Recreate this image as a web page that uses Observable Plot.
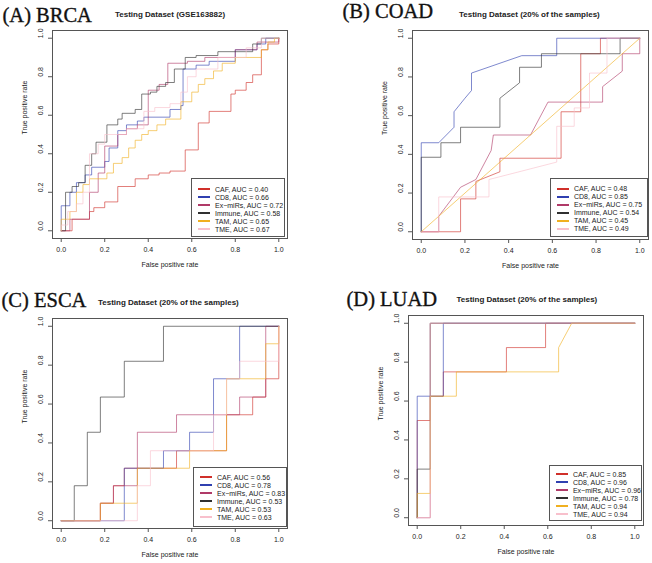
<!DOCTYPE html>
<html><head><meta charset="utf-8">
<script src="https://cdn.jsdelivr.net/npm/d3@7"></script>
<script src="https://cdn.jsdelivr.net/npm/@observablehq/plot@0.6"></script>
<style>
body{margin:0;background:#fff}
#fig{position:relative;width:652px;height:563px;overflow:hidden;background:#fff}
.panel{position:absolute}
.title{position:absolute;font-family:"Liberation Serif","Times New Roman",serif;font-size:20.5px;line-height:1;white-space:nowrap;color:#111;-webkit-text-stroke:0.35px #111}
.sub{position:absolute;font-family:"Liberation Sans",Arial,sans-serif;font-weight:bold;font-size:8px;line-height:1;white-space:nowrap;color:#222}
.legend{position:absolute;box-sizing:border-box;border:1px solid #555;background:#fff;font-family:"Liberation Sans",Arial,sans-serif;font-size:7px;color:#222}
.row{display:flex;align-items:center;height:8px;white-space:nowrap}
.sw{display:inline-block;width:12px;height:0;border-top:2px solid #000;margin-right:5px}
</style></head>
<body><div id="fig"></div>
<script>
// ---- data ----
const seriesNames = ["CAF", "CD8", "Ex\u2212miRs", "Immune", "TAM", "TME"];
const seriesColors = ["#d0302a", "#3040b0", "#b03a68", "#303030", "#f0b020", "#f8c0cc"];
const tickVals = [0, 0.2, 0.4, 0.6, 0.8, 1.0];

const panelTitles = ["(A) BRCA", "(B) COAD", "(C) ESCA", "(D) LUAD"];
const panelSubtitles = ["Testing Dataset (GSE163882)", "Testing Dataset (20% of the samples)", "Testing Dataset (20% of the samples)", "Testing Dataset (20% of the samples)"];

const aucBRCA = [0.40, 0.66, 0.72, 0.58, 0.65, 0.67];
const aucCOAD = [0.48, 0.85, 0.75, 0.54, 0.45, 0.49];
const aucESCA = [0.56, 0.78, 0.83, 0.53, 0.53, 0.63];
const aucLUAD = [0.85, 0.96, 0.96, 0.78, 0.94, 0.94];

// BRCA curves [fpr, tpr]
const brcaCAF = [[0,0],[0.05,0],[0.05,0.06],[0.13,0.06],[0.13,0.1],[0.15,0.1],[0.15,0.12],[0.2,0.12],[0.2,0.15],[0.26,0.15],[0.26,0.23],[0.34,0.23],[0.34,0.27],[0.4,0.27],[0.4,0.29],[0.45,0.29],[0.45,0.3],[0.5,0.3],[0.5,0.31],[0.57,0.31],[0.57,0.42],[0.63,0.42],[0.63,0.56],[0.68,0.56],[0.68,0.62],[0.78,0.62],[0.78,0.71],[0.8,0.71],[0.8,0.73],[0.85,0.73],[0.85,0.77],[0.88,0.77],[0.88,0.81],[0.92,0.81],[0.92,0.94],[0.95,0.94],[0.95,0.97],[1,0.97],[1,1]];
const brcaCD8 = [[0,0],[0,0.13],[0.04,0.13],[0.04,0.2],[0.07,0.2],[0.07,0.25],[0.11,0.25],[0.11,0.29],[0.14,0.29],[0.14,0.33],[0.2,0.33],[0.2,0.36],[0.22,0.36],[0.22,0.43],[0.26,0.43],[0.26,0.52],[0.3,0.52],[0.3,0.55],[0.35,0.55],[0.35,0.57],[0.38,0.57],[0.38,0.59],[0.5,0.59],[0.5,0.63],[0.55,0.63],[0.55,0.65],[0.56,0.65],[0.56,0.84],[0.62,0.84],[0.62,0.86],[0.68,0.86],[0.68,0.88],[0.8,0.88],[0.8,0.94],[0.9,0.94],[0.9,0.97],[0.94,0.97],[0.94,1],[1,1]];
const brcaExm = [[0,0],[0.04,0],[0.04,0.06],[0.13,0.06],[0.13,0.2],[0.17,0.2],[0.17,0.3],[0.2,0.3],[0.2,0.44],[0.26,0.44],[0.26,0.5],[0.3,0.5],[0.3,0.53],[0.35,0.53],[0.35,0.55],[0.4,0.55],[0.4,0.73],[0.45,0.73],[0.45,0.76],[0.49,0.76],[0.49,0.87],[0.58,0.87],[0.58,0.88],[0.66,0.88],[0.66,0.9],[0.8,0.9],[0.8,0.94],[0.9,0.94],[0.9,0.98],[1,0.98],[1,1]];
const brcaImm = [[0,0],[0.02,0],[0.02,0.2],[0.05,0.2],[0.05,0.23],[0.08,0.23],[0.08,0.25],[0.11,0.25],[0.11,0.34],[0.14,0.34],[0.14,0.4],[0.16,0.4],[0.16,0.46],[0.21,0.46],[0.21,0.55],[0.26,0.55],[0.26,0.58],[0.28,0.58],[0.28,0.61],[0.34,0.61],[0.34,0.63],[0.37,0.63],[0.37,0.71],[0.41,0.71],[0.41,0.72],[0.44,0.72],[0.44,0.75],[0.48,0.75],[0.48,0.77],[0.52,0.77],[0.52,0.84],[0.57,0.84],[0.57,0.9],[0.62,0.9],[0.62,0.91],[0.72,0.91],[0.72,0.93],[0.88,0.93],[0.88,0.97],[0.92,0.97],[0.92,1],[1,1]];
const brcaTAM = [[0,0],[0,0.06],[0.04,0.06],[0.04,0.1],[0.07,0.1],[0.07,0.2],[0.1,0.2],[0.1,0.24],[0.13,0.24],[0.13,0.27],[0.21,0.27],[0.21,0.3],[0.24,0.3],[0.24,0.35],[0.28,0.35],[0.28,0.38],[0.31,0.38],[0.31,0.43],[0.34,0.43],[0.34,0.47],[0.37,0.47],[0.37,0.5],[0.4,0.5],[0.4,0.52],[0.44,0.52],[0.44,0.55],[0.48,0.55],[0.48,0.58],[0.55,0.58],[0.55,0.67],[0.6,0.67],[0.6,0.72],[0.63,0.72],[0.63,0.76],[0.66,0.76],[0.66,0.79],[0.7,0.79],[0.7,0.83],[0.74,0.83],[0.74,0.87],[0.8,0.87],[0.8,0.9],[0.92,0.9],[0.92,0.94],[0.95,0.94],[0.95,0.98],[0.98,0.98],[0.98,1],[1,1]];
const brcaTME = [[0,0],[0,0.03],[0.03,0.03],[0.03,0.1],[0.07,0.1],[0.07,0.14],[0.1,0.14],[0.1,0.2],[0.13,0.2],[0.13,0.4],[0.17,0.4],[0.17,0.45],[0.2,0.45],[0.2,0.5],[0.3,0.5],[0.3,0.53],[0.38,0.53],[0.38,0.62],[0.43,0.62],[0.43,0.64],[0.5,0.64],[0.5,0.66],[0.55,0.66],[0.55,0.72],[0.58,0.72],[0.58,0.8],[0.62,0.8],[0.62,0.84],[0.72,0.84],[0.72,0.9],[0.85,0.9],[0.85,0.95],[0.92,0.95],[0.92,1],[1,1]];

// COAD curves
const coadCAF = [[0,0],[0.18,0],[0.18,0.17],[0.25,0.17],[0.25,0.26],[0.36,0.31],[0.36,0.38],[0.64,0.38],[0.64,0.62],[0.73,0.62],[0.73,0.92],[0.82,0.92],[0.82,1],[1,1]];
const coadCD8 = [[0,0],[0,0.46],[0.08,0.46],[0.15,0.54],[0.15,0.62],[0.2,0.69],[0.23,0.73],[0.23,0.82],[0.46,0.91],[0.62,0.91],[0.62,1],[0.85,1],[1,1]];
const coadExm = [[0,0],[0.08,0],[0.08,0.08],[0.18,0.23],[0.25,0.27],[0.32,0.42],[0.33,0.5],[0.5,0.5],[0.58,0.67],[0.83,0.67],[0.83,0.75],[0.92,0.83],[0.92,0.92],[1,0.92],[1,1]];
const coadImm = [[0,0],[0,0.385],[0.09,0.385],[0.09,0.46],[0.18,0.46],[0.18,0.54],[0.36,0.54],[0.36,0.69],[0.45,0.77],[0.45,0.85],[0.55,0.85],[0.55,0.92],[0.91,0.92],[0.91,1],[1,1]];
const coadTAM = [[0,0],[1,1]];
const coadTME = [[0,0],[0.08,0],[0.08,0.18],[0.31,0.18],[0.31,0.27],[0.62,0.36],[0.62,0.545],[0.7,0.545],[0.7,0.64],[0.77,0.64],[0.77,0.82],[0.85,0.82],[0.85,1],[1,1]];

// ESCA curves
const escaCAF = [[0,0],[0.18,0],[0.18,0.09],[0.24,0.09],[0.24,0.18],[0.29,0.18],[0.29,0.27],[0.53,0.27],[0.53,0.36],[0.76,0.36],[0.76,0.545],[0.88,0.545],[0.88,0.636],[0.94,0.636],[0.94,0.73],[1,0.73],[1,1]];
const escaCD8 = [[0,0],[0.29,0],[0.29,0.27],[0.47,0.27],[0.47,0.36],[0.59,0.36],[0.59,0.455],[0.7,0.455],[0.7,0.73],[0.82,0.73],[0.82,1],[1,1]];
const escaExm = [[0,0],[0.18,0],[0.18,0.09],[0.24,0.09],[0.24,0.18],[0.35,0.18],[0.35,0.455],[0.53,0.455],[0.53,0.545],[0.82,0.545],[0.82,0.636],[0.94,0.636],[0.94,1],[1,1]];
const escaImm = [[0,0],[0.06,0],[0.06,0.18],[0.12,0.18],[0.12,0.455],[0.18,0.455],[0.18,0.636],[0.29,0.636],[0.29,0.82],[0.47,0.82],[0.47,1],[1,1]];
const escaTAM = [[0,0],[0.18,0],[0.18,0.09],[0.35,0.09],[0.35,0.27],[0.59,0.27],[0.59,0.36],[0.76,0.36],[0.76,0.73],[0.94,0.73],[0.94,0.91],[1,0.91],[1,1]];
const escaTME = [[0,0],[0.35,0],[0.35,0.18],[0.41,0.18],[0.41,0.36],[0.7,0.36],[0.7,0.545],[0.76,0.545],[0.76,0.73],[0.82,0.73],[0.82,0.82],[1,0.82],[1,1]];

// LUAD curves
const luadCAF = [[0,0],[0,0.5],[0.06,0.5],[0.06,0.625],[0.12,0.625],[0.12,0.75],[0.41,0.75],[0.41,0.875],[0.59,0.875],[0.59,1],[1,1]];
const luadCD8 = [[0,0],[0,0.625],[0.12,0.625],[0.12,1],[1,1]];
const luadExm = [[0,0],[0.06,0],[0.06,1],[1,1]];
const luadImm = [[0,0],[0,0.25],[0.06,0.25],[0.06,1],[1,1]];
const luadTAM = [[0,0],[0,0.125],[0.06,0.125],[0.06,0.625],[0.18,0.625],[0.18,0.75],[0.65,0.75],[0.65,0.875],[0.71,1],[1,1]];
const luadTME = [[0,0],[0.06,0],[0.06,1],[1,1]];

// ---- layout ----
const panels = [
  {curves:[brcaCAF,brcaCD8,brcaExm,brcaImm,brcaTAM,brcaTME], auc:aucBRCA, left:0, top:0, w:326, h:280, mL:52, mR:39, mT:30, mB:42,
   title:[2.5,4.5], sub:[115,10.7], leg:{l:191,t:178,w:94,h:59,pt:6}},
  {curves:[coadCAF,coadCD8,coadExm,coadImm,coadTAM,coadTME], auc:aucCOAD, left:326, top:0, w:326, h:280, mL:86, mR:4, mT:30, mB:41,
   title:[342.5,1.2], sub:[459,10.7], leg:{l:550,t:178,w:98,h:59,pt:5.5}},
  {curves:[escaCAF,escaCD8,escaExm,escaImm,escaTAM,escaTME], auc:aucESCA, left:0, top:280, w:326, h:283, mL:52, mR:39, mT:38, mB:35,
   title:[1.5,289.5], sub:[98,299.2], leg:{l:193,t:467,w:94,h:60,pt:5}},
  {curves:[luadCAF,luadCD8,luadExm,luadImm,luadTAM,luadTME], auc:aucLUAD, left:326, top:280, w:326, h:283, mL:82, mR:9, mT:35, mB:38,
   title:[346.5,288.8], sub:[456.5,296.2], leg:{l:549,t:465,w:93,h:56,pt:4}}
];

const fig = document.getElementById("fig");
const fmt = d => d.toFixed(1);

panels.forEach((p, k) => {
  const data = [];
  p.curves.forEach((c, i) => c.forEach(([x, y]) => data.push({s: seriesNames[i], x, y})));
  const chart = Plot.plot({
    width: p.w, height: p.h,
    marginLeft: p.mL, marginRight: p.mR, marginTop: p.mT, marginBottom: p.mB,
    x: {domain: [-0.04, 1.04]},
    y: {domain: [-0.04, 1.04]},
    color: {domain: seriesNames, range: seriesColors},
    style: {fontFamily: "'Liberation Sans', Arial, sans-serif", fontSize: "7px", background: "transparent", color: "#222"},
    marks: [
      Plot.line(data, {x: "x", y: "y", z: "s", stroke: "s", strokeWidth: 1, strokeOpacity: 0.62}),
      Plot.frame({stroke: "#555"}),
      Plot.axisX({ticks: tickVals, tickSize: 4, tickPadding: 5, tickFormat: fmt, label: null, stroke: "#555", fill: "#222"}),
      Plot.axisY({ticks: tickVals, tickSize: 4, tickFormat: () => "", label: null, stroke: "#555"}),
      Plot.text(tickVals, {y: d => d, text: fmt, frameAnchor: "left", dx: -11.5, rotate: -90, fill: "#222"}),
      Plot.text(["False positive rate"], {frameAnchor: "bottom", dy: 28.5, text: d => d, fill: "#222"}),
      Plot.text(["True positive rate"], {frameAnchor: "left", dx: -27.5, rotate: -90, text: d => d, fill: "#222"})
    ]
  });
  const wrap = document.createElement("div");
  wrap.className = "panel";
  wrap.style.left = p.left + "px"; wrap.style.top = p.top + "px";
  wrap.appendChild(chart);
  fig.appendChild(wrap);

  const t = document.createElement("div");
  t.className = "title"; t.textContent = panelTitles[k];
  t.style.left = p.title[0] + "px"; t.style.top = p.title[1] + "px";
  fig.appendChild(t);
  const s = document.createElement("div");
  s.className = "sub"; s.textContent = panelSubtitles[k];
  s.style.left = p.sub[0] + "px"; s.style.top = p.sub[1] + "px";
  fig.appendChild(s);

  const lg = document.createElement("div");
  lg.className = "legend";
  Object.assign(lg.style, {left: p.leg.l + "px", top: p.leg.t + "px", width: p.leg.w + "px", height: p.leg.h + "px", paddingTop: p.leg.pt + "px", paddingLeft: "6px"});
  seriesNames.forEach((n, i) => {
    const r = document.createElement("div"); r.className = "row";
    const sw = document.createElement("span"); sw.className = "sw"; sw.style.borderTopColor = seriesColors[i];
    const tx = document.createElement("span"); tx.textContent = `${n}, AUC = ${p.auc[i].toFixed(2)}`;
    r.appendChild(sw); r.appendChild(tx); lg.appendChild(r);
  });
  fig.appendChild(lg);
});
</script></body></html>
